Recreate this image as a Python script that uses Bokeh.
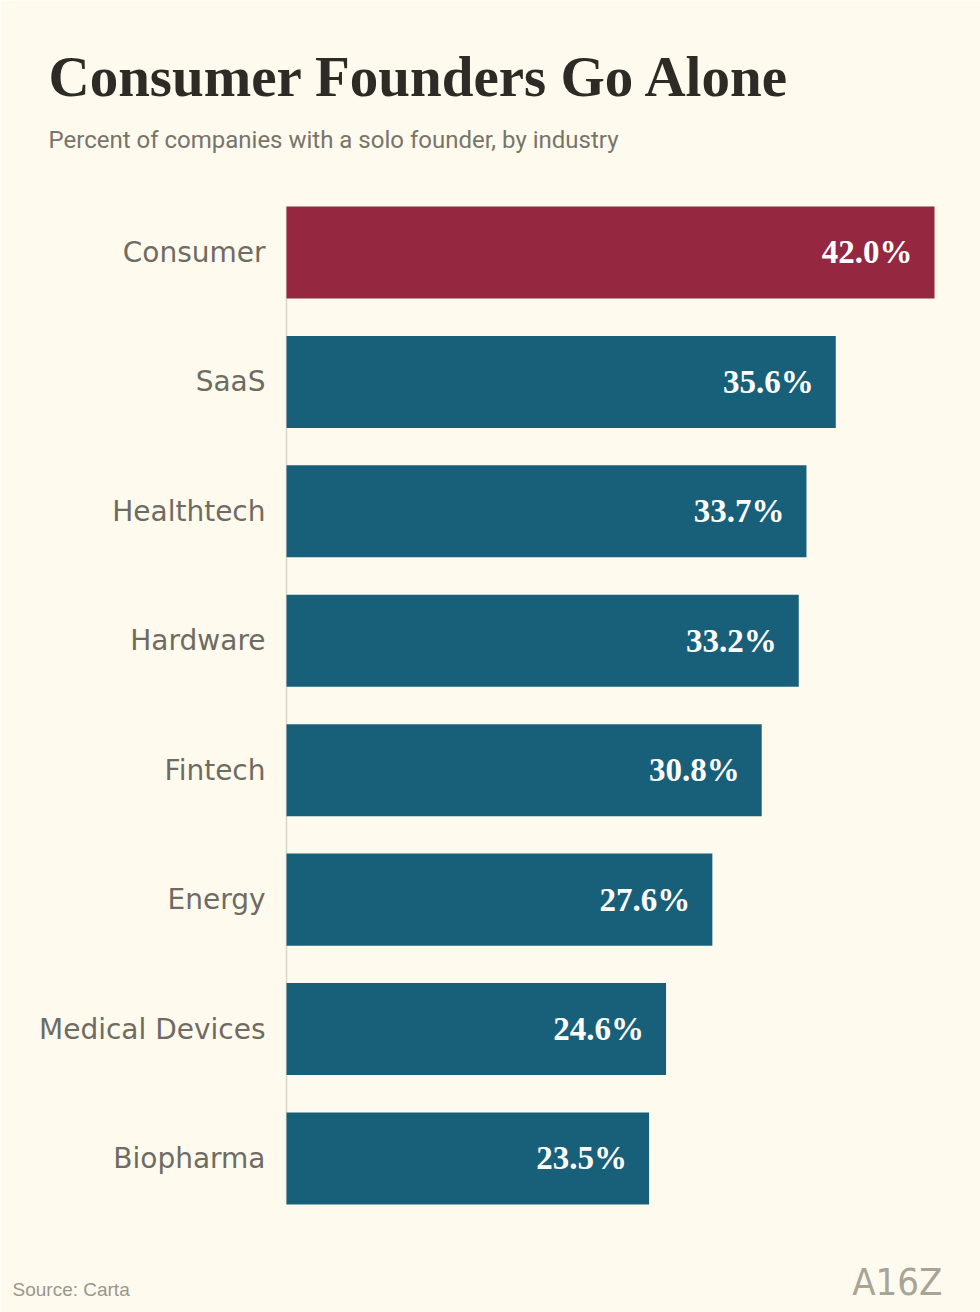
from bokeh.plotting import figure
from bokeh.models import ColumnDataSource, Label, Range1d
from bokeh.core.properties import value
from bokeh.embed import file_html
from bokeh.resources import INLINE

industries = ["Consumer", "SaaS", "Healthtech", "Hardware", "Fintech",
              "Energy", "Medical Devices", "Biopharma"]
shares = [42.0, 35.6, 33.7, 33.2, 30.8, 27.6, 24.6, 23.5]
share_labels = ["%.1f%%" % s for s in shares]

BG = "#FEFBEE"
RED = "#952741"
BLUE = "#18607A"
colors = [RED if name == "Consumer" else BLUE for name in industries]
pos = list(range(len(industries)))
BAR_H = 0.711

source = ColumnDataSource(data=dict(pos=pos, industry=industries, share=shares,
                                    label=share_labels, color=colors,
                                    zero=[0] * len(pos)))

# frame fills the canvas; 15.43 px per percentage point, 129.4 px per row
p = figure(width=980, height=1312,
           x_range=Range1d(-18.537, 44.98), y_range=Range1d(8.19, -1.947),
           output_backend="svg", toolbar_location=None, tools="",
           min_border=0)
p.background_fill_color = BG
p.border_fill_color = BG
p.outline_line_color = None
p.grid.visible = False
p.axis.visible = False

# thin baseline at zero, from top of first bar to bottom of last
p.segment(x0=0, y0=-BAR_H / 2, x1=0, y1=len(pos) - 1 + BAR_H / 2,
          line_color="#D9D5C9", line_width=1.5)

p.hbar(y="pos", right="share", left=0, height=BAR_H, color="color",
       line_color=None, source=source)

p.text(x="share", y="pos", text="label", source=source, x_offset=-22,
       text_align="right", text_baseline="middle", text_color="white",
       text_font=value("Liberation Serif"), text_font_style="bold",
       text_font_size="33px")

p.text(x="zero", y="pos", text="industry", source=source, x_offset=-21,
       text_align="right", text_baseline="middle", text_color="#6F6B62",
       text_font=value("DejaVu Sans"), text_font_size="28px")

# titles and footer (screen units from bottom-left of canvas)
p.add_layout(Label(x=48, y=1312 - 76, x_units="screen", y_units="screen",
                   text="Consumer Founders Go Alone", text_font="Liberation Serif",
                   text_font_style="bold", text_font_size="57px",
                   text_color="#2E2B27", text_baseline="alphabetic"))
p.add_layout(Label(x=48, y=1312 - 139, x_units="screen", y_units="screen",
                   text="Percent of companies with a solo founder, by industry",
                   text_font="Roboto", text_font_size="24px",
                   text_color="#78746A", text_baseline="alphabetic"))
p.add_layout(Label(x=12, y=1312 - 1289, x_units="screen", y_units="screen",
                   text="Source: Carta", text_font="Liberation Sans",
                   text_font_size="19px", text_color="#9A968C",
                   text_baseline="alphabetic"))
p.add_layout(Label(x=942, y=31, x_units="screen", y_units="screen",
                   text="A16Z", text_font="DejaVu Sans Condensed",
                   text_font_size="38px", text_color="#A8A497",
                   text_align="right", text_baseline="alphabetic"))

open("out.html", "w").write(file_html(p, INLINE))
